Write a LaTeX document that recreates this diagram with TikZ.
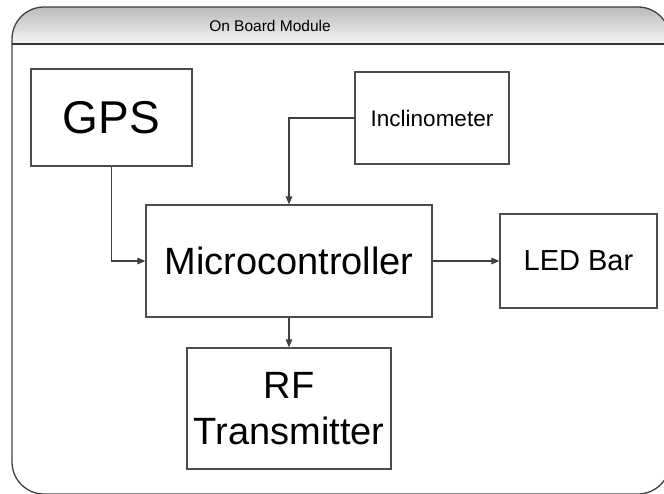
\documentclass[tikz,border=0pt]{standalone}
\usepackage{fontspec}
\setmainfont{Liberation Sans}
\usetikzlibrary{arrows.meta}
\begin{document}
\begin{tikzpicture}[x=1pt,y=-1pt,
  box/.style={draw=black!70, line width=1.2pt, fill=white, inner sep=0pt, align=center},
  conn/.style={draw=black!75, line width=1.1pt, -{Triangle[length=8pt,width=6.5pt]}}]
\useasboundingbox (0,0) rectangle (664,493);
\begin{scope}
  \clip (0,0) rectangle (664,493);
  \begin{scope}
    \clip[rounded corners=32pt] (12,7) rectangle (670,494);
    \shade[top color=black!27, bottom color=black!4] (12,7) rectangle (670,44);
  \end{scope}
  \draw[black!75, line width=1.3pt, rounded corners=32pt] (12,7) rectangle (670,494);
  \draw[black!80, line width=1.6pt] (12,44) -- (670,44);
\end{scope}
\node[font=\fontsize{15.5}{18}\selectfont] (title) at (270,26) {On Board Module};
\node[box, minimum width=161pt, minimum height=97pt, font=\fontsize{46}{55}\selectfont] (gps) at (111.5,117.5) {GPS};
\node[box, minimum width=154pt, minimum height=92pt, font=\fontsize{22.5}{27}\selectfont] (inc) at (432,118) {Inclinometer};
\node[box, minimum width=286pt, minimum height=112pt, font=\fontsize{38}{46}\selectfont] (mc) at (289,261) {Microcontroller};
\node[box, minimum width=157pt, minimum height=94pt, font=\fontsize{29}{35}\selectfont] (led) at (578.5,261) {LED Bar};
\node[box, minimum width=204pt, minimum height=121pt, font=\fontsize{38}{46}\selectfont] (rf) at (289,408.5) {RF\\Transmitter};
\draw[conn] (gps.south) |- (mc.west);
\draw[conn] (inc.west) -| (mc.north);
\draw[conn] (mc.east) -- (led.west);
\draw[conn] (mc.south) -- (rf.north);
\end{tikzpicture}
\end{document}
